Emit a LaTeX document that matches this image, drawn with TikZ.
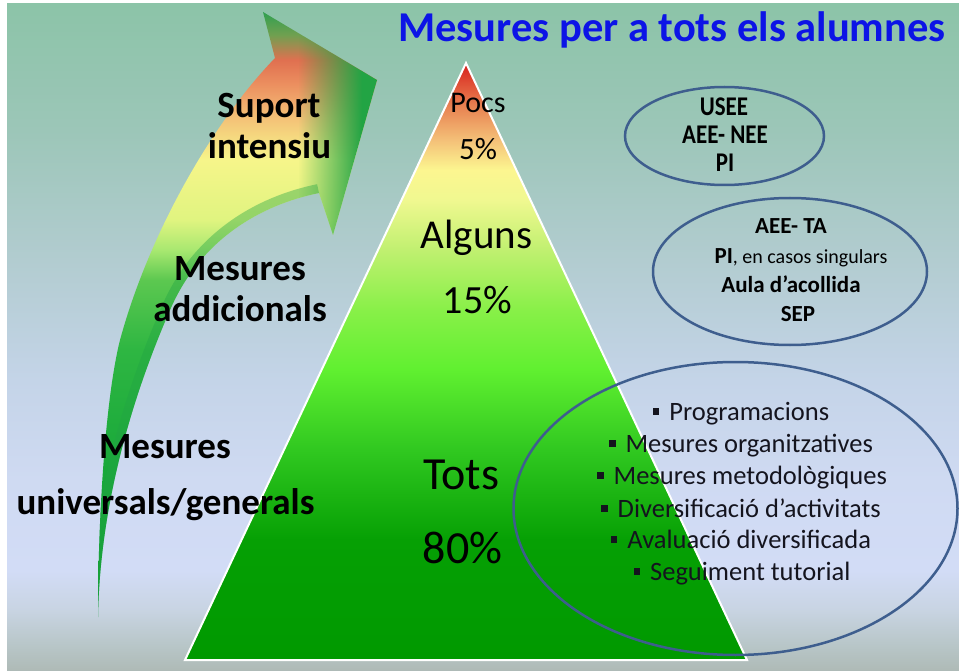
\documentclass[tikz,border=0pt]{standalone}
\usepackage{fontspec}
\setmainfont{Carlito}
\newfontfamily\narrowcal[FakeStretch=0.85]{Carlito}
\usetikzlibrary{fadings,shapes.geometric}

\newcommand\fs[1]{\fontsize{#1pt}{#1pt}\selectfont}
\newcommand\bul{\rule[5.5pt]{6.5pt}{6.5pt}\hspace{10pt}}

% background colours
\definecolor{bgA}{HTML}{AEBAB6}
\definecolor{bgB}{HTML}{B8C6C8}
\definecolor{bgC}{HTML}{C8D4E2}
\definecolor{bgD}{HTML}{D2DCF6}
\definecolor{bgE}{HTML}{CFDAF2}
\definecolor{bgF}{HTML}{C4D4E8}
\definecolor{bgG}{HTML}{B2CCD0}
\definecolor{bgH}{HTML}{9CC6B8}
\definecolor{bgI}{HTML}{8CC4A8}
\pgfdeclareverticalshading{bgshade}{100bp}{color(0bp)=(bgA); color(25bp)=(bgA); color(26.95bp)=(bgB); color(29.57bp)=(bgC); color(32.57bp)=(bgD); color(39.32bp)=(bgE); color(46.81bp)=(bgF); color(55.81bp)=(bgG); color(65.55bp)=(bgH); color(75bp)=(bgI); color(100bp)=(bgI)}

% triangle colours
\definecolor{trA}{HTML}{009900}
\definecolor{trB}{HTML}{06A004}
\definecolor{trC}{HTML}{30C820}
\definecolor{trD}{HTML}{60F030}
\definecolor{trE}{HTML}{88F048}
\definecolor{trF}{HTML}{C0F070}
\definecolor{trG}{HTML}{F0F890}
\definecolor{trH}{HTML}{FCF690}
\definecolor{trI}{HTML}{F4C078}
\definecolor{trJ}{HTML}{E88050}
\definecolor{trK}{HTML}{D8201C}
\pgfdeclareverticalshading{trishade}{100bp}{color(0bp)=(trA); color(25bp)=(trA); color(35.05bp)=(trB); color(42.59bp)=(trC); color(49.29bp)=(trD); color(54.31bp)=(trE); color(59.34bp)=(trF); color(63.53bp)=(trG); color(66.04bp)=(trH); color(68.55bp)=(trI); color(71.48bp)=(trJ); color(75bp)=(trK); color(100bp)=(trK)}

% arrow colours (positions: 25 + 50*(617-y)/605)
\definecolor{arA}{HTML}{109C34}
\definecolor{arB}{HTML}{18A83A}
\definecolor{arC}{HTML}{2EB642}
\definecolor{arD}{HTML}{5CC850}
\definecolor{arD2}{HTML}{A8E870}
\definecolor{arE}{HTML}{E0F480}
\definecolor{arF}{HTML}{F6F58A}
\definecolor{arG}{HTML}{F4C478}
\definecolor{arH}{HTML}{EC9060}
\definecolor{arI}{HTML}{E07050}
\definecolor{arJ}{HTML}{70A050}
\definecolor{arK}{HTML}{30A050}
\definecolor{agreen}{HTML}{22A444}
\pgfdeclareverticalshading{arrowshade}{100bp}{color(0bp)=(arA); color(25bp)=(arA); color(37.15bp)=(arB); color(47.07bp)=(arC); color(52.85bp)=(arD); color(55.33bp)=(arD2); color(57.81bp)=(arE); color(62.77bp)=(arF); color(66.07bp)=(arG); color(68.97bp)=(arH); color(71.03bp)=(arI); color(73.10bp)=(arJ); color(75bp)=(arK); color(100bp)=(arK)}

\definecolor{ellc}{HTML}{3E5E8E}
\definecolor{titleblue}{RGB}{12,20,230}

\tikzfading[name=fadeinright, left color=transparent!100, right color=transparent!0]

\newcommand\arrowpath{(98,617) .. controls (98,520) and (105,400) .. (120,340)
  .. controls (150,230) and (215,120) .. (275,58) -- (263,12) -- (377,80)
  -- (333,235) -- (319,193) .. controls (260,205) and (200,240) .. (170,310)
  .. controls (135,390) and (100,500) .. (98,617) -- cycle}

\begin{document}
\begin{tikzpicture}[x=1pt,y=-1pt,
  lbl/.style={anchor=base, inner sep=0pt, text=black},
  side/.style={lbl, font=\bfseries\fs{37}},
  tri/.style={lbl, font=\fs{#1}},
  lst/.style={lbl, font=\fs{26.5}, text={rgb,255:red,20;green,20;blue,30}},
  ell/.style={ellipse, draw=ellc, line width=2.5pt, inner sep=0pt}]
\useasboundingbox (0,0) rectangle (959,671);
\fill[white] (0,0) rectangle (959,671);
\shade[shading=bgshade] (7,4) rectangle (959,671);

% curved arrow
\begin{scope}
  \clip \arrowpath;
  \shade[shading=arrowshade] \arrowpath;
  \fill[agreen, path fading=fadeinright] (298,0) rectangle (362,245);
  \fill[agreen] (362,0) rectangle (380,245);
  \draw[agreen, line width=18pt, opacity=.4] (319,193) .. controls (260,205) and (200,240) .. (170,310)
     .. controls (135,390) and (100,500) .. (98,617);
\end{scope}

% pyramid
\coordinate (apex) at (466,63);
\coordinate (bl) at (185,660);
\coordinate (br) at (747,660);
\shade[shading=trishade] (apex) -- (br) -- (bl) -- cycle;
\draw[white, line width=2pt, line join=miter] (apex) -- (br) -- (bl) -- cycle;

% ellipses
\node[ell, minimum width=199pt, minimum height=98pt] (e1) at (724.5,136) {};
\node[ell, minimum width=274pt, minimum height=147pt] (e2) at (790,271.5) {};
\node[ell, minimum width=444pt, minimum height=293pt] (e3) at (735.5,508.5) {};

% title
\node[lbl, text=titleblue, font=\bfseries\fs{42.5}] (title) at (672,42) {Mesures per a tots els alumnes};

% left labels
\node[side] (s1) at (269,118) {Suport};
\node[side] (s2) at (269.5,159) {intensiu};
\node[side] (a1) at (240,280) {Mesures};
\node[side] (a2) at (240,321) {addicionals};
\node[side] (u1) at (165,458) {Mesures};
\node[side] (u2) at (165.5,514) {universals/generals};

% pyramid labels
\node[tri=30] (p1) at (478,113) {Pocs};
\node[tri=31] (p2) at (478,160) {5\%};
\node[tri=41] (g1) at (476.5,249) {Alguns};
\node[tri=40] (g2) at (477.5,313) {15\%};
\node[tri=46] (t1) at (461,489) {Tots};
\node[tri=46] (t2) at (462.5,563) {80\%};

% ellipse 1 text
\node[lbl, font=\narrowcal\bfseries\fs{27}] (x1) at (724,116) {USEE};
\node[lbl, font=\narrowcal\bfseries\fs{27}] (x2) at (725,144) {AEE- NEE};
\node[lbl, font=\narrowcal\bfseries\fs{27}] (x3) at (725,172) {PI};

% ellipse 2 text
\node[lbl, font=\bfseries\fs{23}] (y1) at (791,234) {AEE- TA};
\node[lbl, font=\bfseries\fs{23}] (y2) at (801,264) {PI{\mdseries\fs{20},\ en casos singulars}};
\node[lbl, font=\bfseries\fs{23}] (y3) at (791,293) {Aula d’acollida};
\node[lbl, font=\bfseries\fs{23}] (y4) at (798,321) {SEP};

% list
\node[lst] (l1) at (741,420) {\bul Programacions};
\node[lst] (l2) at (741,452) {\bul Mesures organitzatives};
\node[lst] (l3) at (742,484) {\bul Mesures metodològiques};
\node[lst] (l4) at (741,517) {\bul Diversificació d’activitats};
\node[lst] (l5) at (741,548) {\bul Avaluació diversificada};
\node[lst] (l6) at (742,580) {\bul Seguiment tutorial};
\end{tikzpicture}
\end{document}
